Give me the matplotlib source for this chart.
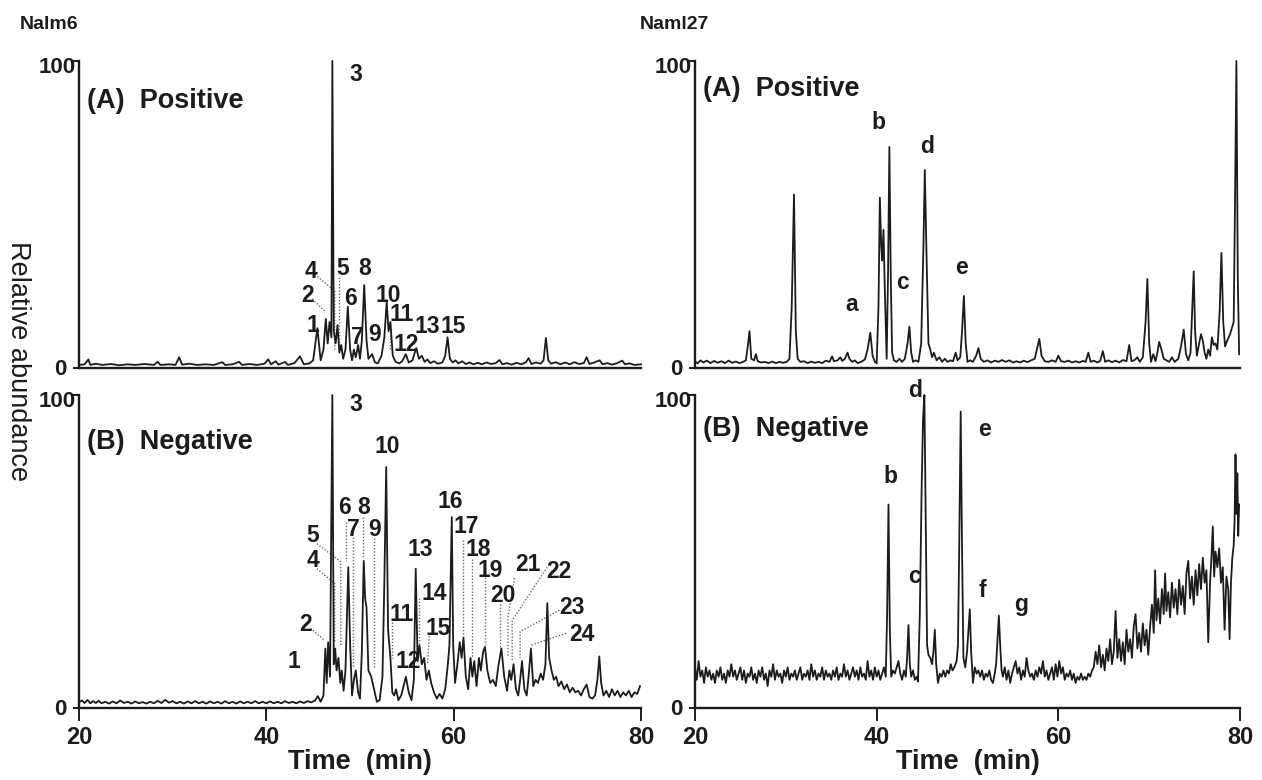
import matplotlib.pyplot as plt

plt.rcParams["font.family"] = ["Liberation Sans", "DejaVu Sans"]

INK = "#1c1c1c"
LEAD = "#6a6a6a"

# ---- chromatogram traces: (time min, relative abundance %) ----
NALM6_POS = [
    (20.0, 1.0), (20.6, 1.2), (21.0, 2.8), (21.2, 1.0), (21.8, 1.4), (22.5, 1.0), (23.4, 1.3),
    (24.3, 0.9), (25.2, 1.2), (26.0, 1.0), (27.0, 1.3), (28.0, 1.0), (28.4, 2.0), (28.7, 1.0),
    (29.6, 1.2), (30.3, 1.0), (30.7, 3.5), (31.0, 1.1), (31.8, 1.4), (32.6, 1.0), (33.5, 1.2),
    (34.4, 1.0), (35.3, 1.9), (35.6, 1.0), (36.4, 1.2), (37.1, 2.0), (37.4, 1.0), (38.2, 1.3),
    (39.0, 1.0), (39.8, 1.4), (40.2, 2.8), (40.5, 1.2), (41.0, 2.2), (41.3, 1.1), (42.0, 2.0),
    (42.3, 1.0), (43.0, 1.6), (43.6, 3.8), (44.0, 1.2), (44.6, 1.5), (45.0, 2.5), (45.45, 13.0),
    (45.8, 2.5), (46.1, 6.0), (46.35, 16.0), (46.55, 8.0), (46.75, 15.0), (46.95, 10.0),
    (47.05, 100.0), (47.2, 12.0), (47.4, 8.0), (47.6, 14.0), (47.8, 5.0), (48.0, 7.5),
    (48.2, 3.0), (48.45, 6.0), (48.7, 20.0), (48.95, 6.0), (49.15, 2.5), (49.35, 6.0),
    (49.55, 3.5), (49.8, 7.5), (50.0, 3.0), (50.2, 9.0), (50.45, 27.0), (50.7, 9.0),
    (50.9, 3.0), (51.3, 4.5), (51.6, 1.8), (51.9, 1.5), (52.3, 4.0), (52.6, 10.0),
    (52.85, 21.5), (53.05, 12.0), (53.25, 15.0), (53.5, 4.0), (53.8, 2.0), (54.2, 1.5),
    (54.5, 2.2), (54.9, 4.5), (55.2, 1.8), (55.6, 2.5), (56.0, 6.5), (56.3, 3.0), (56.6, 4.0),
    (56.9, 2.0), (57.2, 2.8), (57.5, 1.6), (57.9, 2.2), (58.3, 1.4), (58.8, 1.8), (59.1, 4.0),
    (59.35, 10.0), (59.6, 3.0), (59.9, 1.8), (60.2, 2.5), (60.5, 1.5), (60.9, 2.2), (61.3, 1.3),
    (61.7, 1.8), (62.1, 1.2), (62.6, 1.7), (63.0, 1.2), (63.5, 1.8), (64.0, 1.3), (64.5, 1.6),
    (64.9, 2.6), (65.2, 1.2), (65.7, 1.6), (66.2, 1.1), (66.7, 1.7), (67.2, 1.2), (67.7, 1.8),
    (68.0, 3.2), (68.3, 1.3), (68.8, 1.8), (69.3, 1.4), (69.6, 2.5), (69.85, 9.8), (70.1, 2.5),
    (70.4, 1.4), (70.9, 1.9), (71.4, 1.2), (71.9, 1.8), (72.4, 1.2), (72.9, 1.9), (73.4, 1.3),
    (73.9, 1.6), (74.2, 3.5), (74.5, 1.3), (75.0, 1.8), (75.6, 2.5), (75.9, 1.2), (76.4, 1.6),
    (76.9, 1.1), (77.4, 1.5), (78.0, 2.4), (78.3, 1.2), (78.8, 1.5), (79.3, 1.0), (80.0, 1.2),
]

NALM6_NEG = [
    (20.0, 1.8), (20.3, 2.4), (20.6, 1.6), (20.9, 2.6), (21.2, 1.5), (21.5, 2.2), (21.8, 1.6),
    (22.1, 2.3), (22.4, 1.5), (22.8, 2.0), (23.2, 1.4), (23.6, 2.1), (24.0, 1.5), (24.4, 2.4),
    (24.8, 1.6), (25.2, 2.0), (25.6, 1.4), (26.0, 2.1), (26.4, 1.5), (26.8, 1.9), (27.2, 1.4),
    (27.6, 2.0), (28.0, 1.5), (28.4, 2.3), (28.8, 1.6), (29.2, 2.6), (29.6, 1.7), (30.0, 2.2),
    (30.4, 1.5), (30.8, 2.0), (31.2, 1.4), (31.6, 2.1), (32.0, 1.5), (32.4, 2.2), (32.8, 1.5),
    (33.2, 2.0), (33.6, 1.4), (34.0, 2.1), (34.4, 1.5), (34.8, 2.0), (35.2, 1.4), (35.6, 2.2),
    (36.0, 1.5), (36.4, 2.0), (36.8, 1.4), (37.2, 2.1), (37.6, 1.5), (38.0, 2.0), (38.4, 1.5),
    (38.8, 2.2), (39.2, 1.5), (39.6, 2.0), (40.0, 1.5), (40.4, 2.1), (40.8, 1.5), (41.2, 2.0),
    (41.6, 1.5), (42.0, 2.2), (42.4, 1.6), (42.8, 2.0), (43.2, 1.5), (43.6, 2.1), (44.0, 1.6),
    (44.4, 2.2), (44.8, 1.8), (45.2, 2.4), (45.5, 3.8), (45.8, 2.0), (46.1, 4.0), (46.3, 19.0),
    (46.45, 8.0), (46.6, 21.0), (46.8, 10.0), (47.05, 100.0), (47.2, 14.0), (47.35, 19.0),
    (47.5, 12.0), (47.7, 16.0), (47.9, 8.0), (48.05, 12.0), (48.25, 5.5), (48.45, 12.0),
    (48.75, 45.0), (48.95, 20.0), (49.15, 4.0), (49.35, 9.0), (49.55, 12.0), (49.8, 5.0),
    (50.0, 3.0), (50.2, 18.0), (50.4, 47.0), (50.55, 35.0), (50.7, 32.0), (50.9, 12.0),
    (51.2, 10.0), (51.5, 6.0), (51.8, 2.0), (52.1, 2.5), (52.4, 10.0), (52.6, 40.0),
    (52.8, 77.0), (53.0, 25.0), (53.25, 16.0), (53.45, 5.0), (53.65, 4.0), (53.85, 6.0),
    (54.1, 2.5), (54.4, 4.0), (54.9, 10.0), (55.2, 5.0), (55.5, 2.5), (55.75, 9.0),
    (55.95, 44.5), (56.15, 15.0), (56.35, 20.0), (56.6, 14.0), (56.85, 16.0), (57.1, 9.0),
    (57.35, 12.0), (57.6, 8.0), (57.9, 5.0), (58.2, 3.0), (58.5, 4.5), (58.8, 3.0), (59.1, 6.0),
    (59.35, 13.0), (59.55, 20.0), (59.8, 61.0), (59.95, 20.0), (60.15, 8.0), (60.4, 14.0),
    (60.65, 21.0), (60.85, 16.0), (61.05, 22.5), (61.3, 10.0), (61.55, 6.0), (61.8, 16.0),
    (62.0, 10.0), (62.2, 15.0), (62.45, 7.0), (62.7, 16.0), (62.9, 12.0), (63.15, 18.0),
    (63.35, 19.5), (63.6, 12.0), (63.9, 8.0), (64.2, 9.0), (64.5, 7.0), (64.8, 14.0),
    (65.1, 19.0), (65.4, 10.0), (65.7, 5.5), (65.95, 12.0), (66.15, 9.0), (66.4, 14.0),
    (66.65, 6.0), (66.9, 4.0), (67.1, 9.0), (67.3, 15.0), (67.55, 6.0), (67.8, 4.0),
    (68.0, 10.0), (68.25, 19.0), (68.5, 7.0), (68.75, 9.0), (69.0, 8.0), (69.3, 11.0),
    (69.55, 9.0), (69.8, 14.0), (70.0, 33.5), (70.2, 16.0), (70.45, 12.0), (70.7, 9.0),
    (70.95, 10.0), (71.2, 7.0), (71.5, 8.5), (71.8, 6.0), (72.1, 7.5), (72.4, 5.0), (72.7, 6.5),
    (73.0, 5.0), (73.3, 5.5), (73.6, 4.0), (73.9, 6.0), (74.2, 7.5), (74.5, 3.5), (74.8, 3.0),
    (75.1, 4.0), (75.35, 9.0), (75.55, 16.5), (75.75, 8.0), (76.0, 4.0), (76.3, 5.5),
    (76.6, 3.5), (76.9, 6.0), (77.2, 4.0), (77.5, 5.5), (77.8, 3.5), (78.1, 5.0), (78.4, 4.0),
    (78.7, 5.5), (79.0, 3.5), (79.3, 5.0), (79.6, 4.5), (79.9, 7.0),
]

NAML27_POS = [
    (20.0, 2.2), (20.3, 1.5), (20.6, 2.5), (20.9, 1.8), (21.3, 2.4), (21.7, 1.6), (22.1, 2.3),
    (22.5, 1.7), (22.9, 2.2), (23.3, 1.6), (23.7, 2.4), (24.1, 1.7), (24.5, 2.1), (24.9, 1.6),
    (25.3, 2.0), (25.6, 2.5), (25.85, 8.0), (26.0, 12.0), (26.2, 3.0), (26.5, 2.5), (26.7, 4.5),
    (26.9, 2.2), (27.3, 1.8), (27.7, 2.0), (28.1, 1.6), (28.5, 2.1), (28.9, 1.6), (29.3, 2.0),
    (29.7, 1.7), (30.1, 2.0), (30.4, 3.0), (30.65, 20.0), (30.9, 56.5), (31.1, 12.0),
    (31.3, 3.0), (31.6, 2.0), (32.0, 2.2), (32.4, 1.6), (32.8, 2.1), (33.2, 1.7), (33.6, 2.0),
    (34.0, 1.6), (34.4, 2.4), (34.8, 2.0), (35.1, 3.8), (35.3, 2.2), (35.7, 2.5), (36.0, 3.5),
    (36.2, 2.3), (36.5, 3.0), (36.8, 5.0), (37.0, 3.0), (37.3, 2.0), (37.6, 2.5), (37.9, 1.6),
    (38.3, 2.0), (38.7, 2.8), (39.0, 6.0), (39.3, 11.5), (39.55, 4.0), (39.8, 2.0),
    (40.0, 1.5), (40.2, 20.0), (40.35, 55.5), (40.5, 40.0), (40.6, 35.0), (40.75, 45.0),
    (40.9, 25.0), (41.1, 3.0), (41.25, 30.0), (41.4, 72.0), (41.55, 30.0), (41.7, 5.0),
    (41.9, 2.5), (42.2, 2.0), (42.5, 3.0), (42.8, 2.0), (43.1, 3.0), (43.4, 8.0), (43.6, 13.5),
    (43.8, 5.0), (44.0, 2.0), (44.3, 2.5), (44.6, 2.0), (44.9, 8.0), (45.15, 40.0),
    (45.3, 64.5), (45.5, 35.0), (45.7, 8.0), (45.9, 6.0), (46.1, 3.5), (46.3, 5.0), (46.6, 2.5),
    (46.9, 3.5), (47.2, 2.0), (47.5, 3.0), (47.8, 2.0), (48.1, 2.5), (48.4, 2.2), (48.7, 5.0),
    (48.9, 2.5), (49.2, 3.5), (49.4, 12.0), (49.6, 23.5), (49.8, 8.0), (50.0, 2.0), (50.3, 2.5),
    (50.6, 2.0), (50.95, 4.0), (51.2, 6.5), (51.45, 3.0), (51.8, 2.0), (52.2, 2.5), (52.6, 1.8),
    (53.0, 2.4), (53.4, 2.0), (53.8, 2.6), (54.2, 2.0), (54.6, 2.5), (55.0, 1.8), (55.4, 2.2),
    (55.8, 1.8), (56.2, 2.4), (56.6, 1.9), (57.0, 2.5), (57.4, 3.0), (57.7, 7.0), (57.9, 9.5),
    (58.15, 4.0), (58.5, 2.2), (58.9, 2.0), (59.3, 2.5), (59.7, 2.0), (60.0, 4.0), (60.3, 2.2),
    (60.7, 2.0), (61.1, 2.4), (61.5, 1.8), (61.9, 2.2), (62.3, 1.8), (62.7, 2.3), (63.0, 2.0),
    (63.3, 5.0), (63.55, 2.0), (63.9, 2.4), (64.3, 1.8), (64.6, 2.3), (64.9, 5.5), (65.15, 2.0),
    (65.5, 2.5), (65.9, 1.9), (66.3, 2.4), (66.7, 1.8), (67.1, 2.6), (67.5, 2.2), (67.8, 7.5),
    (68.05, 2.2), (68.4, 2.6), (68.7, 3.5), (68.95, 2.0), (69.3, 3.5), (69.6, 15.0),
    (69.8, 29.0), (70.0, 8.0), (70.2, 2.0), (70.45, 4.5), (70.7, 2.2), (70.9, 5.0), (71.1, 8.5),
    (71.35, 6.0), (71.6, 3.0), (71.9, 2.5), (72.2, 2.0), (72.5, 3.5), (72.8, 2.0), (73.2, 3.0),
    (73.5, 7.0), (73.8, 12.5), (74.05, 4.5), (74.3, 2.5), (74.55, 5.0), (74.75, 20.0),
    (74.9, 31.5), (75.05, 12.0), (75.25, 4.0), (75.5, 8.0), (75.7, 11.0), (75.9, 9.0),
    (76.1, 5.0), (76.3, 3.0), (76.5, 6.0), (76.7, 4.0), (76.9, 10.0), (77.1, 7.5), (77.3, 8.0),
    (77.5, 6.0), (77.75, 18.0), (77.95, 37.5), (78.15, 15.0), (78.35, 7.0), (78.6, 9.0),
    (78.9, 11.0), (79.1, 13.0), (79.3, 15.0), (79.45, 55.0), (79.6, 100.0), (79.75, 30.0),
    (79.9, 4.5),
]

NAML27_NEG = [
    (20.0, 13), (20.2, 9), (20.4, 15), (20.6, 10), (20.8, 12), (21.0, 8), (21.2, 13), (21.4, 10),
    (21.6, 12), (21.8, 9), (22.0, 11), (22.2, 8), (22.4, 12), (22.6, 10), (22.8, 13), (23.0, 9),
    (23.2, 11), (23.4, 8), (23.6, 12), (23.8, 10), (24.0, 14), (24.2, 10), (24.4, 12), (24.6, 9),
    (24.8, 11), (25.0, 13), (25.2, 9), (25.4, 12), (25.6, 8), (25.8, 11), (26.0, 10), (26.2, 13),
    (26.4, 9), (26.6, 11), (26.8, 8), (27.0, 12), (27.2, 10), (27.4, 13), (27.6, 9), (27.8, 11),
    (28.0, 7), (28.2, 12), (28.4, 10), (28.6, 14), (28.8, 9), (29.0, 12), (29.2, 10), (29.4, 11),
    (29.6, 8), (29.8, 12), (30.0, 10), (30.2, 13), (30.4, 9), (30.6, 11), (30.8, 10), (31.0, 12),
    (31.2, 9), (31.4, 11), (31.6, 13), (31.8, 9), (32.0, 11), (32.2, 10), (32.4, 12), (32.6, 9),
    (32.8, 14), (33.0, 10), (33.2, 12), (33.4, 9), (33.6, 11), (33.8, 10), (34.0, 13), (34.2, 9),
    (34.4, 12), (34.6, 10), (34.8, 11), (35.0, 9), (35.2, 12), (35.4, 10), (35.6, 13), (35.8, 9),
    (36.0, 11), (36.2, 10), (36.4, 14), (36.6, 10), (36.8, 12), (37.0, 9), (37.2, 11), (37.4, 13),
    (37.6, 10), (37.8, 12), (38.0, 9), (38.2, 13), (38.4, 10), (38.6, 11), (38.8, 9), (39.0, 15),
    (39.2, 10), (39.4, 12), (39.6, 9), (39.8, 13), (40.0, 10), (40.2, 12), (40.4, 9), (40.6, 11),
    (40.8, 13), (41.0, 10), (41.15, 30), (41.3, 65), (41.45, 25), (41.6, 10), (41.8, 12),
    (42.0, 11), (42.2, 13), (42.4, 15), (42.6, 11), (42.8, 9), (43.0, 12), (43.2, 10),
    (43.35, 16), (43.5, 26.5), (43.65, 14), (43.8, 10), (44.0, 12), (44.2, 9), (44.4, 10),
    (44.55, 8.5), (44.75, 30), (44.95, 70), (45.1, 92), (45.25, 100), (45.4, 60), (45.55, 20),
    (45.7, 17), (45.9, 16), (46.1, 14), (46.25, 18), (46.4, 25), (46.55, 14), (46.75, 8),
    (46.95, 11), (47.15, 10), (47.35, 12), (47.55, 10), (47.75, 12), (47.95, 11), (48.15, 14),
    (48.35, 12), (48.55, 13), (48.8, 15), (48.95, 20), (49.1, 55), (49.25, 94.7), (49.4, 50),
    (49.55, 16), (49.75, 13), (49.95, 18), (50.1, 25), (50.25, 31.5), (50.4, 18), (50.6, 8),
    (50.8, 13), (51.0, 11), (51.2, 12), (51.4, 10), (51.6, 12), (51.8, 9), (52.0, 11),
    (52.2, 10), (52.4, 12), (52.6, 9), (52.8, 8), (53.0, 11), (53.15, 14), (53.3, 22),
    (53.45, 29.5), (53.6, 20), (53.75, 12), (53.9, 10), (54.1, 13), (54.3, 9), (54.5, 12),
    (54.7, 8), (54.9, 11), (55.1, 13), (55.3, 15), (55.5, 11), (55.7, 13), (55.9, 9), (56.1, 12),
    (56.3, 10), (56.5, 16), (56.7, 12), (56.9, 10), (57.1, 11), (57.3, 9), (57.5, 12), (57.7, 10),
    (57.9, 13), (58.1, 11), (58.3, 15), (58.5, 10), (58.7, 12), (58.9, 9), (59.1, 11), (59.3, 13),
    (59.5, 9), (59.7, 14), (59.9, 10), (60.1, 15), (60.3, 11), (60.5, 13), (60.7, 9), (60.9, 11),
    (61.1, 10), (61.3, 12), (61.5, 9), (61.7, 11), (61.9, 8), (62.1, 10), (62.3, 9), (62.5, 11),
    (62.7, 9), (62.9, 10), (63.1, 9), (63.3, 11), (63.5, 10), (63.7, 12), (63.9, 13), (64.1, 18),
    (64.3, 14), (64.5, 20), (64.7, 13), (64.9, 17), (65.1, 12), (65.3, 19), (65.5, 15),
    (65.7, 22), (65.9, 14), (66.1, 18), (66.3, 31), (66.5, 16), (66.7, 22), (66.9, 15),
    (67.1, 21), (67.3, 14), (67.5, 25), (67.7, 18), (67.9, 22), (68.1, 16), (68.3, 26),
    (68.5, 30), (68.7, 19), (68.9, 24), (69.1, 18), (69.3, 27), (69.5, 20), (69.7, 25),
    (69.9, 17), (70.1, 26), (70.3, 33), (70.5, 24), (70.65, 44), (70.8, 28), (71.0, 35),
    (71.2, 27), (71.4, 38), (71.6, 30), (71.75, 43), (71.9, 31), (72.1, 37), (72.3, 29),
    (72.5, 40), (72.7, 32), (72.9, 38), (73.1, 30), (73.3, 41), (73.5, 33), (73.7, 39),
    (73.9, 30), (74.1, 43), (74.3, 47), (74.5, 35), (74.7, 42), (74.9, 33), (75.1, 44),
    (75.3, 36), (75.5, 46), (75.7, 38), (75.9, 48), (76.1, 40), (76.3, 44), (76.5, 21),
    (76.7, 40), (76.85, 48), (77.0, 58), (77.15, 42), (77.3, 50), (77.5, 45), (77.7, 51),
    (77.9, 40), (78.1, 45), (78.3, 25), (78.5, 42), (78.7, 38), (78.85, 22), (79.0, 40),
    (79.15, 48), (79.3, 52), (79.4, 60), (79.5, 81), (79.6, 62), (79.7, 75), (79.8, 55),
    (79.9, 65),
]

# ---- peak labels: (text, time, abundance) ----
NALM6_POS_LABELS = [
    ("3", 49.6, 95.5), ("4", 44.8, 31.5), ("5", 48.1, 32.5), ("8", 50.45, 32.5),
    ("2", 44.4, 23.5), ("6", 48.95, 22.5), ("10", 53.0, 23.5), ("1", 45.0, 14.0),
    ("11", 54.4, 17.5), ("7", 49.7, 10.0), ("9", 51.6, 11.0), ("12", 54.9, 7.5),
    ("13", 57.2, 13.5), ("15", 60.0, 13.5),
]
NALM6_NEG_LABELS = [
    ("3", 49.6, 97.0), ("10", 52.9, 83.5), ("6", 48.4, 64.0), ("8", 50.4, 64.0),
    ("7", 49.3, 57.0), ("9", 51.6, 57.0), ("5", 44.9, 55.0), ("4", 45.0, 47.0),
    ("13", 56.4, 50.5), ("16", 59.6, 66.0), ("17", 61.3, 58.0), ("18", 62.6, 50.5),
    ("19", 63.9, 44.0), ("21", 67.9, 46.0), ("22", 71.2, 43.6), ("14", 57.9, 36.7),
    ("20", 65.3, 36.0), ("23", 72.6, 32.0), ("11", 54.4, 30.0), ("15", 58.4, 25.5),
    ("24", 73.7, 23.4), ("2", 44.2, 26.6), ("1", 42.9, 15.0), ("12", 55.1, 15.0),
]
NAML27_POS_LABELS = [
    ("b", 40.2, 80.0), ("d", 45.6, 72.0), ("e", 49.3, 32.6), ("c", 42.8, 28.0), ("a", 37.2, 20.6),
]
NAML27_NEG_LABELS = [
    ("d", 44.2, 101.5), ("e", 51.9, 89.0), ("b", 41.5, 74.0), ("c", 44.2, 42.0),
    ("f", 51.6, 37.6), ("g", 55.9, 33.0),
]

# ---- dotted leader lines (polylines in data units) ----
NALM6_POS_LEADERS = [
    [(45.2, 30.5), (47.3, 25.0), (47.3, 6.0)],
    [(47.75, 29.5), (47.75, 6.0)],
    [(44.9, 22.5), (46.25, 18.5)],
    [(53.25, 15.0), (53.25, 6.0)],
]
NALM6_NEG_LEADERS = [
    [(45.4, 52.5), (47.95, 46.7), (47.95, 20.0)],
    [(45.4, 44.5), (47.3, 39.8), (47.3, 21.0)],
    [(48.55, 59.5), (48.55, 47.0)],
    [(49.3, 54.6), (49.3, 13.0)],
    [(50.35, 61.0), (50.35, 48.0)],
    [(51.45, 54.4), (51.45, 12.5)],
    [(44.7, 25.5), (46.25, 21.5)],
    [(53.45, 27.5), (53.45, 16.0)],
    [(56.35, 35.0), (56.35, 20.0)],
    [(57.4, 23.0), (57.2, 14.0)],
    [(61.05, 53.6), (61.05, 23.0)],
    [(61.95, 47.7), (61.95, 16.0)],
    [(63.35, 42.0), (63.35, 20.0)],
    [(64.9, 33.2), (64.9, 19.5)],
    [(66.5, 41.5), (65.8, 29.0), (65.8, 16.5)],
    [(70.0, 45.0), (66.25, 28.0), (66.25, 15.0)],
    [(71.3, 31.3), (67.1, 24.4), (67.1, 16.0)],
    [(72.0, 23.9), (68.2, 20.0)],
]

XTICKS = [20, 40, 60, 80]

# axes boxes in figure fractions (scan layout)
LEFT_X, LEFT_W = 0.0626, 0.4453
RIGHT_X, RIGHT_W = 0.5507, 0.4319
TOP_Y, TOP_H = 0.5282, 0.3936
BOT_Y, BOT_H = 0.0923, 0.4013


def setup_axes(ax, bottom_row):
    ax.set_xlim(20, 80)
    ax.set_ylim(0, 100)
    for side in ("top", "right"):
        ax.spines[side].set_visible(False)
    for side in ("left", "bottom"):
        ax.spines[side].set_linewidth(1.7)
        ax.spines[side].set_color(INK)
    ax.set_yticks([0, 100])
    ax.set_yticklabels([])
    ax.tick_params(axis="y", length=4, width=1.4, color=INK)
    yt = ax.get_yaxis_transform()
    ax.text(-0.006, 98.0, "100", transform=yt, ha="right", va="center",
            fontsize=16, fontweight="bold", color=INK)
    ax.text(-0.022, -0.5, "0", transform=yt, ha="right", va="center",
            fontsize=16, fontweight="bold", color=INK)
    if bottom_row:
        ax.set_xticks(XTICKS)
        ax.set_xticklabels([str(v) for v in XTICKS])
        ax.tick_params(axis="x", length=9, width=1.4, color=INK, pad=4,
                       labelsize=17, labelcolor=INK)
        for lab in ax.get_xticklabels():
            lab.set_fontweight("bold")
        ax.set_xlabel("Time  (min)", fontsize=19.5, fontweight="bold", color=INK, labelpad=0)
    else:
        ax.set_xticks([])


def draw_panel(ax, trace, labels, leaders, mode_text, mode_y, bottom_row):
    setup_axes(ax, bottom_row)
    for line in leaders:
        ax.plot([p[0] for p in line], [p[1] for p in line], color=LEAD, lw=1.0,
                ls=(0, (1, 1.3)), clip_on=False, zorder=1)
    ax.plot([p[0] for p in trace], [p[1] for p in trace], color=INK, lw=1.3,
            clip_on=False, zorder=2)
    for txt, t, v in labels:
        ax.text(t, v, txt, ha="center", va="center", fontsize=16.5, fontweight="bold",
                color=INK, zorder=3)
    ax.text(0.015, mode_y, mode_text, transform=ax.transAxes, ha="left", va="center",
            fontsize=19.5, fontweight="bold", color=INK)


fig = plt.figure(figsize=(12.62, 7.80), dpi=100)
fig.patch.set_facecolor("white")

ax_lt = fig.add_axes([LEFT_X, TOP_Y, LEFT_W, TOP_H])
ax_lb = fig.add_axes([LEFT_X, BOT_Y, LEFT_W, BOT_H])
ax_rt = fig.add_axes([RIGHT_X, TOP_Y, RIGHT_W, TOP_H])
ax_rb = fig.add_axes([RIGHT_X, BOT_Y, RIGHT_W, BOT_H])

draw_panel(ax_lt, NALM6_POS, NALM6_POS_LABELS, NALM6_POS_LEADERS, "(A)  Positive", 0.87, False)
draw_panel(ax_lb, NALM6_NEG, NALM6_NEG_LABELS, NALM6_NEG_LEADERS, "(B)  Negative", 0.85, True)
draw_panel(ax_rt, NAML27_POS, NAML27_POS_LABELS, [], "(A)  Positive", 0.91, False)
draw_panel(ax_rb, NAML27_NEG, NAML27_NEG_LABELS, [], "(B)  Negative", 0.89, True)

fig.text(0.016, 0.968, "Nalm6", ha="left", va="center", fontsize=14, fontweight="bold", color=INK)
fig.text(0.507, 0.968, "Naml27", ha="left", va="center", fontsize=14, fontweight="bold", color=INK)
fig.text(0.0145, 0.537, "Relative abundance", rotation=270, ha="center", va="center",
         fontsize=19.5, color=INK)

fig.savefig("out.png", dpi=100, facecolor="white")
